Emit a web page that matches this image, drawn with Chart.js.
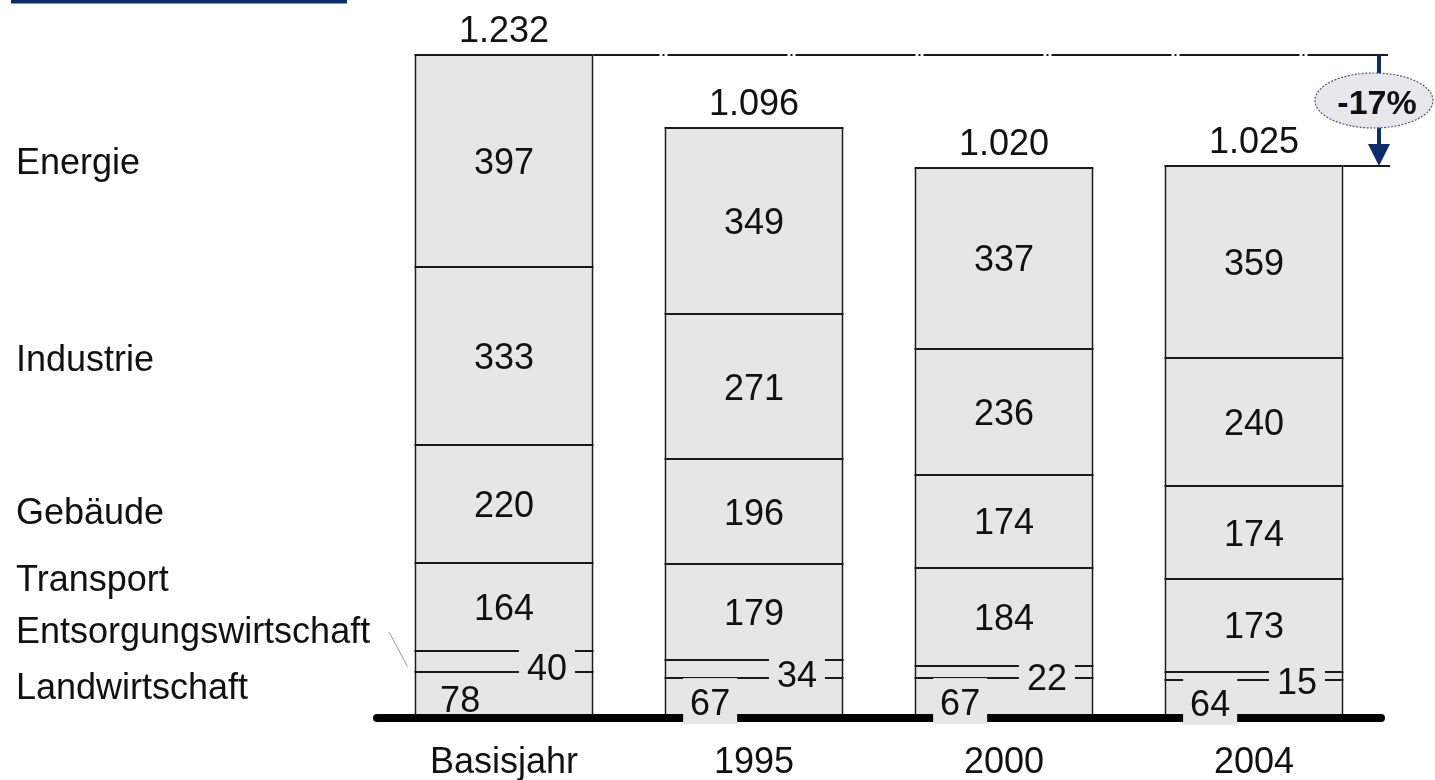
<!DOCTYPE html>
<html>
<head>
<meta charset="utf-8">
<script src="https://cdn.jsdelivr.net/npm/chart.js@4.4.1/dist/chart.umd.min.js"></script>
<style>
  html, body { margin: 0; padding: 0; background: #fff; }
  #wrap { width: 1435px; height: 780px; position: relative; }
</style>
</head>
<body>
<div id="wrap"><canvas id="emissionChart"></canvas></div>
<script>
// Emissionen nach Sektoren, Basisjahr bis 2004
const categories = ['Basisjahr', '1995', '2000', '2004'];
const sectors = ['Landwirtschaft', 'Entsorgungswirtschaft', 'Transport', 'Gebäude', 'Industrie', 'Energie'];

const landwirtschaft = [78, 67, 67, 64];
const entsorgung = [40, 34, 22, 15];
const transport = [164, 179, 184, 173];
const gebaeude = [220, 196, 174, 174];
const industrie = [333, 271, 236, 240];
const energie = [397, 349, 337, 359];

const changeLabel = '-17%';

const seriesValues = [landwirtschaft, entsorgung, transport, gebaeude, industrie, energie];
const totals = categories.map((c, i) => seriesValues.reduce((s, arr) => s + arr[i], 0));

const FONT = '"Liberation Sans", Arial, Helvetica, sans-serif';
const FILL = '#e6e6e6';
const EDGE = '#1a1a1a';
const NAVY = '#0a2d6e';

function fmtThousand(v) {
    // German style: 1.232
    if (v < 1000) return String(v);
    return Math.floor(v / 1000) + '.' + String(v % 1000).padStart(3, '0');
}

// write text vertically centred on the cap height
function txt(ctx, str, x, cy, size, align, weight) {
    ctx.font = `${weight || 'normal'} ${size}px ${FONT}`;
    ctx.textAlign = align || 'center';
    ctx.textBaseline = 'alphabetic';
    ctx.fillText(str, x, cy + size * 0.36);
}

const annotatePlugin = {
    id: 'annotate',
    afterDatasetsDraw(chart) {
        const ctx = chart.ctx;
        const area = chart.chartArea;
        const metas = seriesValues.map((_, i) => chart.getDatasetMeta(i).data);
        const top = metas[metas.length - 1];
        const base = metas[0][0].base;

        ctx.save();

        // crisp segment separators (top edge of every segment)
        ctx.strokeStyle = EDGE;
        ctx.lineWidth = 2;
        metas.forEach(m => m.forEach(bar => {
            const y = Math.round(bar.y);
            ctx.beginPath();
            ctx.moveTo(bar.x - bar.width / 2, y);
            ctx.lineTo(bar.x + bar.width / 2, y);
            ctx.stroke();
        }));

        // top-left navy rule
        ctx.fillStyle = NAVY;
        ctx.fillRect(11, 0, 336, 3.5);

        // thick baseline
        ctx.strokeStyle = '#000';
        ctx.lineWidth = 8;
        ctx.lineCap = 'round';
        ctx.beginPath();
        ctx.moveTo(area.left - 2, base + 4);
        ctx.lineTo(area.right + 2, base + 4);
        ctx.stroke();
        ctx.lineCap = 'butt';

        ctx.fillStyle = '#111';

        // values inside the big segments
        for (let d = 2; d < seriesValues.length; d++) {
            metas[d].forEach((bar, i) => {
                txt(ctx, String(seriesValues[d][i]), bar.x, (bar.y + bar.base) / 2, 36);
            });
        }

        // Entsorgungswirtschaft: label to the right, breaking the lines
        metas[1].forEach((bar, i) => {
            const label = String(entsorgung[i]);
            const x = bar.x - bar.width / 2 + bar.width * 0.74;
            const cy = (bar.y + bar.base) / 2 + 5;
            ctx.font = `36px ${FONT}`;
            const w = ctx.measureText(label).width + 16;
            ctx.fillStyle = FILL;
            ctx.fillRect(x - w / 2, cy - 18, w, 34);
            ctx.fillStyle = '#111';
            txt(ctx, label, x, cy, 36);
        });

        // Landwirtschaft: label to the left, on a patch if it does not fit
        metas[0].forEach((bar, i) => {
            const label = String(landwirtschaft[i]);
            const x = bar.x - bar.width / 2 + bar.width * 0.255;
            const h = bar.base - bar.y;
            const cy = (bar.y + bar.base) / 2 + 6;
            ctx.font = `36px ${FONT}`;
            if (h < 38) {
                const w = ctx.measureText(label).width + 14;
                ctx.fillStyle = FILL;
                ctx.fillRect(x - w / 2, cy - 24, w, 46);
            }
            ctx.fillStyle = '#111';
            txt(ctx, label, x, cy, 36);
        });

        // totals above the bars
        top.forEach((bar, i) => {
            ctx.font = `36px ${FONT}`;
            ctx.textAlign = 'center';
            ctx.textBaseline = 'alphabetic';
            ctx.fillText(fmtThousand(totals[i]), bar.x, bar.y - 13);
        });

        // category labels
        top.forEach((bar, i) => {
            txt(ctx, categories[i], bar.x, base + 46, 36);
        });

        // sector names on the left
        const first = metas.map(m => m[0]);
        txt(ctx, sectors[5], 16, (first[5].y + first[5].base) / 2, 36, 'left');
        txt(ctx, sectors[4], 16, (first[4].y + first[4].base) / 2 + 2, 36, 'left');
        txt(ctx, sectors[3], 16, (first[3].y + first[3].base) / 2 + 7, 36, 'left');
        txt(ctx, sectors[2], 16, base - 136, 36, 'left');
        txt(ctx, sectors[1], 16, base - 84, 36, 'left');
        txt(ctx, sectors[0], 16, base - 28, 36, 'left');

        // leader line to the thin segment
        const b0 = first[1];
        ctx.strokeStyle = '#9a9a9a';
        ctx.lineWidth = 1;
        ctx.beginPath();
        ctx.moveTo(389, base - 82);
        ctx.lineTo(b0.x - b0.width / 2 - 7, (b0.y + b0.base) / 2 + 5);
        ctx.stroke();

        // reference lines at first and last total
        const yHigh = Math.round(top[0].y);
        const yLow = Math.round(top[top.length - 1].y);
        const arrowX = area.right;
        ctx.strokeStyle = '#1a1a1a';
        ctx.lineWidth = 2;
        ctx.setLineDash([120, 3, 2, 3]);
        ctx.lineDashOffset = 54;
        ctx.beginPath();
        ctx.moveTo(top[0].x + top[0].width / 2, yHigh);
        ctx.lineTo(arrowX + 9, yHigh);
        ctx.stroke();
        ctx.setLineDash([]);
        ctx.beginPath();
        ctx.moveTo(top[3].x + top[3].width / 2, yLow);
        ctx.lineTo(arrowX + 11, yLow);
        ctx.stroke();

        // down arrow
        ctx.strokeStyle = NAVY;
        ctx.fillStyle = NAVY;
        ctx.lineWidth = 4;
        ctx.beginPath();
        ctx.moveTo(arrowX, yHigh);
        ctx.lineTo(arrowX, yLow - 18);
        ctx.stroke();
        ctx.beginPath();
        ctx.moveTo(arrowX - 11, yLow - 22);
        ctx.lineTo(arrowX + 11, yLow - 22);
        ctx.lineTo(arrowX, yLow);
        ctx.closePath();
        ctx.fill();

        // ellipse with percentage
        const ey = (yHigh + yLow) / 2 - 10;
        const ex = arrowX - 5;
        ctx.beginPath();
        ctx.ellipse(ex, ey, 59, 27.5, 0, 0, Math.PI * 2);
        ctx.fillStyle = '#e8e8ec';
        ctx.fill();
        ctx.strokeStyle = '#4a5a80';
        ctx.lineWidth = 1.2;
        ctx.setLineDash([2, 1.5]);
        ctx.stroke();
        ctx.setLineDash([]);
        ctx.fillStyle = '#111';
        txt(ctx, changeLabel, ex + 3, ey + 1, 34, 'center', 'bold');

        ctx.restore();
    }
};

const datasets = sectors.map((name, i) => ({
    label: name,
    data: seriesValues[i],
    backgroundColor: FILL,
    borderColor: EDGE,
    borderWidth: { top: 0, bottom: 0, left: 2, right: 2 },
    borderSkipped: false,
    barPercentage: 0.716,
    categoryPercentage: 1.0
}));

new Chart(document.getElementById('emissionChart').getContext('2d'), {
    type: 'bar',
    data: { labels: categories, datasets },
    options: {
        responsive: true,
        maintainAspectRatio: false,
        animation: false,
        layout: { padding: { left: 379, right: 56, top: 55, bottom: 66 } },
        plugins: {
            legend: { display: false },
            tooltip: { enabled: false }
        },
        scales: {
            x: { stacked: true, display: false },
            y: { stacked: true, display: false, min: 0, max: totals[0] }
        }
    },
    plugins: [annotatePlugin]
});
</script>
</body>
</html>
